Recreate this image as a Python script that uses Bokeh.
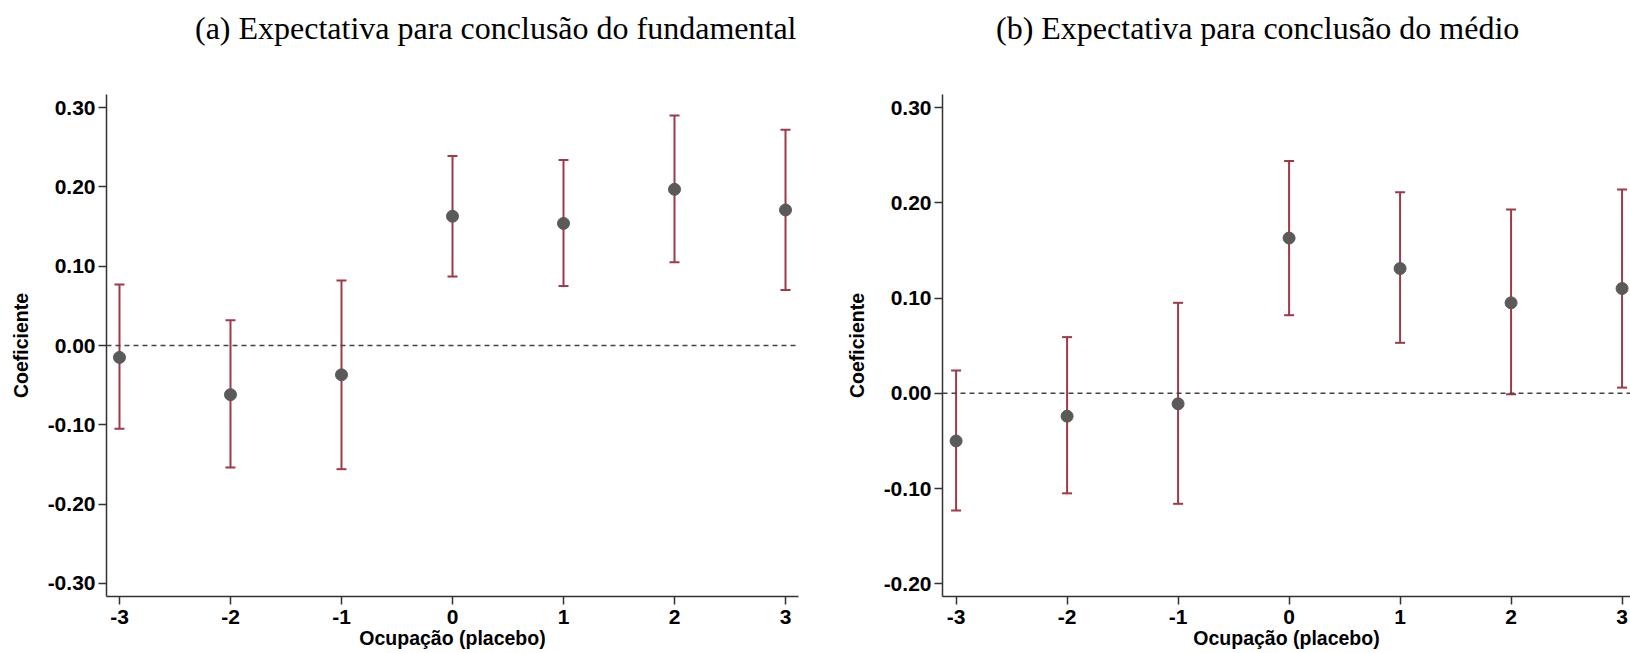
from bokeh.plotting import figure
from bokeh.models import Range1d, Span, FixedTicker, PrintfTickFormatter, Div
from bokeh.layouts import row, column
from bokeh.embed import file_html
from bokeh.resources import INLINE

# ---- data ----
periods = [-3, -2, -1, 0, 1, 2, 3]
x_tick_labels = ["-3", "-2", "-1", "0", "1", "2", "3"]

fund_coef = [-0.015, -0.062, -0.037, 0.163, 0.154, 0.197, 0.171]
fund_lo = [-0.105, -0.154, -0.156, 0.087, 0.075, 0.105, 0.070]
fund_hi = [0.077, 0.032, 0.082, 0.239, 0.234, 0.290, 0.272]

medio_coef = [-0.050, -0.024, -0.011, 0.163, 0.131, 0.095, 0.110]
medio_lo = [-0.123, -0.105, -0.116, 0.082, 0.053, -0.001, 0.006]
medio_hi = [0.024, 0.059, 0.095, 0.244, 0.211, 0.193, 0.214]

fund_yticks = [-0.30, -0.20, -0.10, 0.00, 0.10, 0.20, 0.30]
medio_yticks = [-0.20, -0.10, 0.00, 0.10, 0.20, 0.30]

title_a = "(a) Expectativa para conclusão do fundamental"
title_b = "(b) Expectativa para conclusão do médio"
x_label = "Ocupação (placebo)"
y_label = "Coeficiente"

BAR = "#9e3a48"
DOT = "#5a5a5a"
AX = "#333333"
SANS = "Liberation Sans"

HEIGHT = 653
TITLE_H = 60
COL_W = 815


def title_div(text, pad_left):
    html = ('<div style="margin:0; padding-left:%dpx; padding-top:12px; '
            'font-family:\'Liberation Serif\'; font-size:32px; line-height:32px; '
            'white-space:nowrap; color:black;">%s</div>' % (pad_left, text))
    return Div(text=html, width=COL_W, height=TITLE_H, margin=0)


def panel(coef, lo, hi, yticks, xr, yr, left, right):
    p = figure(width=COL_W, height=HEIGHT - TITLE_H, output_backend="svg",
               toolbar_location=None,
               x_range=Range1d(*xr), y_range=Range1d(*yr),
               min_border_left=left, min_border_right=right,
               min_border_top=94 - TITLE_H, min_border_bottom=57)
    p.outline_line_color = None
    p.grid.visible = False
    p.background_fill_color = "white"
    p.border_fill_color = "white"

    p.add_layout(Span(location=0, dimension="width", line_color="#444444",
                      line_dash="5 4", line_width=1.5))

    p.segment(x0=periods, y0=lo, x1=periods, y1=hi, line_color=BAR, line_width=2)
    p.scatter(periods, lo, marker="dash", size=10, line_color=BAR, line_width=2)
    p.scatter(periods, hi, marker="dash", size=10, line_color=BAR, line_width=2)
    p.scatter(periods, coef, marker="circle", size=12, fill_color=DOT, line_color=DOT)

    for ax in (p.xaxis[0], p.yaxis[0]):
        ax.axis_line_color = AX
        ax.axis_line_width = 1.5
        ax.major_tick_line_color = AX
        ax.major_tick_line_width = 1.5
        ax.major_tick_out = 8
        ax.major_tick_in = 0
        ax.minor_tick_line_color = None
        ax.major_label_text_font = SANS
        ax.major_label_text_font_style = "bold"
        ax.major_label_text_font_size = "21px"
        ax.major_label_text_color = "black"
        ax.axis_label_text_font = SANS
        ax.axis_label_text_font_style = "bold"
        ax.axis_label_text_font_size = "19.5px"
        ax.axis_label_text_color = "black"

    p.xaxis.ticker = FixedTicker(ticks=periods)
    p.xaxis.major_label_overrides = {v: s for v, s in zip(periods, x_tick_labels)}
    p.xaxis.axis_label = x_label
    p.xaxis.major_label_standoff = 5
    p.xaxis.axis_label_standoff = 0

    p.yaxis.ticker = FixedTicker(ticks=yticks)
    p.yaxis.formatter = PrintfTickFormatter(format="%.2f")
    p.yaxis.axis_label = y_label
    p.yaxis.major_label_standoff = 3
    p.yaxis.axis_label_standoff = 13
    return p


pa = panel(fund_coef, fund_lo, fund_hi, fund_yticks,
           (-3.117, 3.117), (-0.3166, 0.3166), 106, 17)
pb = panel(medio_coef, medio_lo, medio_hi, medio_yticks,
           (-3.1225, 3.076), (-0.2133, 0.3137), 127, 0)

layout = row(column(title_div(title_a, 195), pa),
             column(title_div(title_b, 996 - COL_W), pb))
open("out.html", "w").write(file_html(layout, INLINE))
